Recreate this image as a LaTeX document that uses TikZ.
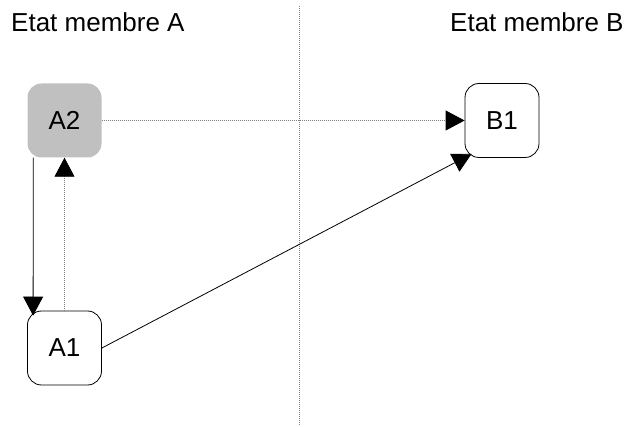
\documentclass[tikz,border=0pt]{standalone}
\usepackage{fontspec}
\setmainfont{Liberation Sans}
\usetikzlibrary{arrows.meta}
\tikzset{
  box/.style={rectangle, rounded corners=14pt, minimum width=74pt, minimum height=74pt, inner sep=0pt, font=\fontsize{26}{30}\selectfont},
  plainbox/.style={box, draw=black, line width=0.8pt, fill=white},
  greybox/.style={box, fill={rgb,255:red,192;green,192;blue,192}},
  title/.style={anchor=base west, inner sep=0pt, font=\fontsize{26}{30}\selectfont},
  tip/.style={-{Triangle[length=19pt,width=20pt,black]}},
  solidarr/.style={tip, draw=black, line width=0.8pt},
  dotarr/.style={tip, draw=gray, line width=0.8pt, dash pattern=on 1pt off 1pt},
  divider/.style={draw=gray, line width=0.8pt, dash pattern=on 1pt off 1pt}
}
\begin{document}
\begin{tikzpicture}[x=1pt,y=-1pt]
\useasboundingbox (0,0) rectangle (629,427);
\node[title] (tA) at (11,32) {Etat membre A};
\node[title] (tB) at (450,32) {Etat membre B};
\coordinate (dtop) at (299,6);
\coordinate (dbot) at (299,425);
\draw[divider] (dtop) -- (dbot);
\node[greybox] (A2) at (64.5,120.5) {A2};
\node[plainbox] (A1) at (64.5,348) {A1};
\node[plainbox] (B1) at (502,120.5) {B1};
\draw[solidarr] ([xshift=6pt]A2.south west) -- ([xshift=6pt,yshift=-5pt]A1.north west);
\draw[dotarr] (A1) -- (A2);
\draw[dotarr] (A2) -- (B1);
\draw[solidarr] (A1.east) -- ([xshift=7pt,yshift=4pt]B1.south west);
\end{tikzpicture}
\end{document}
